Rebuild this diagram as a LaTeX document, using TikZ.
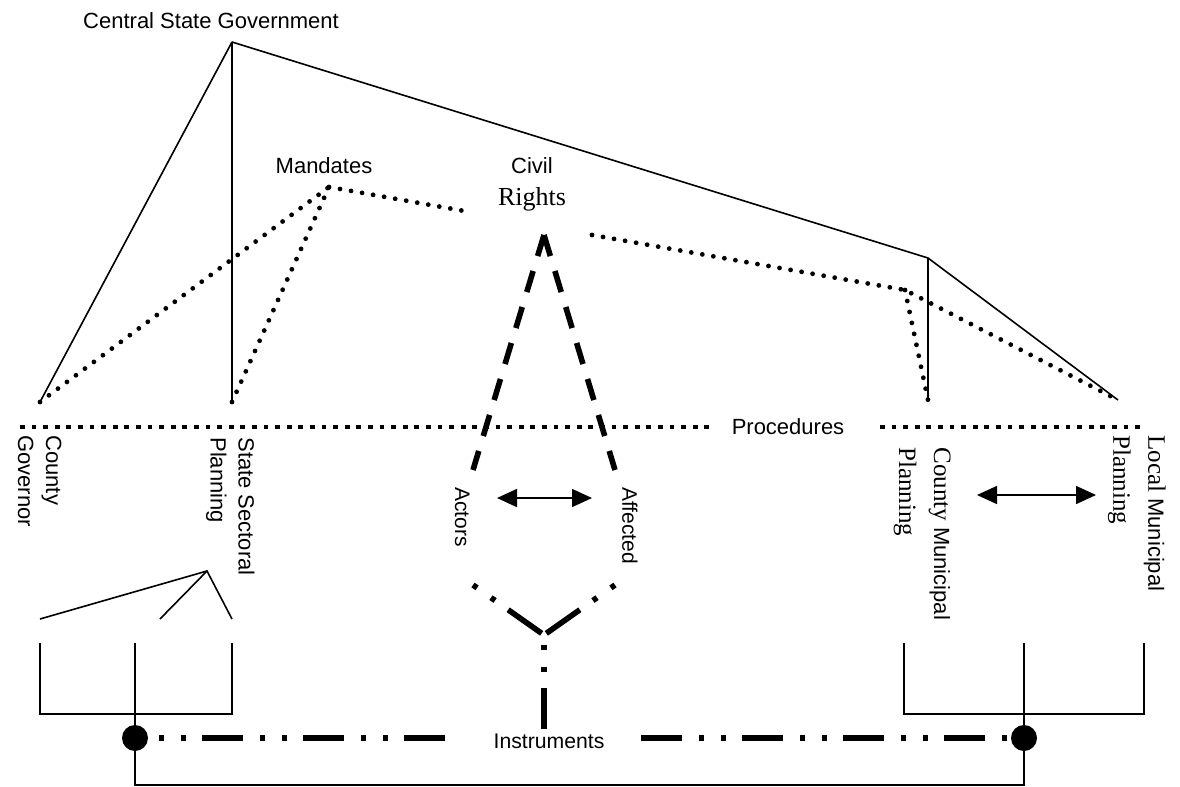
\documentclass[tikz,border=0pt]{standalone}
\usepackage{fontspec}
\setmainfont{Liberation Serif}
\setsansfont{Liberation Sans}
\usetikzlibrary{arrows.meta}

\newcommand{\rmbig}{\fontsize{12.5}{17.5}\selectfont\rmfamily}

\tikzset{
    lbl/.style={font=\sffamily\fontsize{11}{14}\selectfont, inner sep=0pt},
    vlbl/.style={lbl, rotate=-90, anchor=north west, align=left},
    solidline/.style={line width=0.8pt},
    rounddots/.style={line width=2.4pt, line cap=round, dash pattern=on 0pt off 5.6pt},
    squaredots/.style={line width=2.4pt, dash pattern=on 2.4pt off 3.4pt},
    civildash/.style={line width=2.8pt, dash pattern=on 11pt off 7.8pt},
    instrdash/.style={line width=2.8pt, dash pattern=on 2.5pt off 8.5pt on 2.5pt off 8pt on 20.5pt off 8.5pt},
    bigdot/.style={circle, fill, inner sep=0pt, minimum size=13pt},
    dblarrow/.style={line width=0.8pt, {Triangle[length=10pt,width=9pt]}-{Triangle[length=10pt,width=9pt]}},
}

\begin{document}
\begin{tikzpicture}[x=0.5pt, y=-0.5pt]

    \useasboundingbox (0,0) rectangle (1180,787);

    % points
    \coordinate (top) at (232,42);
    \coordinate (bend) at (928,258);
    \coordinate (cgpt) at (40,402);
    \coordinate (sspt) at (232,402);
    \coordinate (cmpt) at (928,400);
    \coordinate (lmpt) at (1118,400);
    \coordinate (mand) at (329,187);
    \coordinate (mandR) at (470,212);
    \coordinate (crR) at (592,235);
    \coordinate (fork) at (905,290);
    \coordinate (crtop) at (544,235);
    \coordinate (actpt) at (473,470);
    \coordinate (affpt) at (615,470);

    % Labels
    \node[lbl] (csg) at (211,21) {Central State Government};
    \node[lbl] (mandates) at (324,166) {Mandates};
    \node[lbl, anchor=base] (civil) at (532,173) {Civil};
    \node[inner sep=0pt, anchor=base, font=\fontsize{13}{15}\selectfont\rmfamily] (rights) at (532,205) {Rights};
    \node[lbl] (proc) at (788,427) {Procedures};
    \node[lbl, font=\sffamily\fontsize{10.6}{12}\selectfont] (instr) at (549,741) {Instruments};

    %% rotated
    \node[vlbl] (cgov) at (62,435) {County\\Governor};
    \node[vlbl] (ssp) at (255,437) {State Sectoral\\Planning};
    \node[vlbl, font=\sffamily\fontsize{10.5}{13}\selectfont] (actors) at (470,487) {Actors};
    \node[vlbl, font=\sffamily\fontsize{10.5}{13}\selectfont] (affected) at (638,487) {Affected};
    \node[vlbl, font=\sffamily\fontsize{11}{17.5}\selectfont] (cmp) at (951,447) {{\rmbig County} Municipal\\{\rmbig Planning}};
    \node[vlbl, font=\sffamily\fontsize{11}{17.5}\selectfont] (lmp) at (1166,435) {{\rmbig Local} Municipal\\{\rmbig Planning}};

    % government
    \draw[solidline] (top) -- (cgpt);
    \draw[solidline] (top) -- (sspt);
    \draw[solidline] (top) -- (bend) -- (lmpt);
    \draw[solidline] (bend) -- (cmpt);

    % mandates & rights
    \draw[rounddots] (cgpt) -- (mand);
    \draw[rounddots] (sspt) -- (mand);
    \draw[rounddots] (mand) -- (mandR);
    \draw[rounddots] (crR) -- (fork) -- (lmpt);
    \draw[rounddots] (fork) -- (cmpt);

    % civil rights
    \draw[civildash] (crtop) -- (actpt);
    \draw[civildash] (crtop) -- (affpt);

    % procedures
    \coordinate (procL) at (20,427);
    \coordinate (procM1) at (714,427);
    \coordinate (procM2) at (880,427);
    \coordinate (procR) at (1143,427);
    \draw[squaredots] (procL) -- (procM1);
    \draw[squaredots] (procM2) -- (procR);

    % arrows
    \coordinate (arL1) at (497,498);
    \coordinate (arL2) at (592,498);
    \coordinate (arR1) at (977,495);
    \coordinate (arR2) at (1096,495);
    \draw[dblarrow] (arL1) -- (arL2);
    \draw[dblarrow] (arR1) -- (arR2);

    % fan
    \coordinate (fan) at (207,571);
    \coordinate (fanA) at (40,619);
    \coordinate (fanB) at (160,619);
    \coordinate (fanC) at (232,619);
    \draw[solidline] (fanA) -- (fan) -- (fanC);
    \draw[solidline] (fanB) -- (fan);

    % V
    \coordinate (vl) at (473,585);
    \coordinate (vr) at (615,585);
    \coordinate (vb) at (544,635);
    \draw[instrdash] (vl) -- (vb);
    \draw[instrdash] (vr) -- (vb);
    \draw[instrdash, dash phase=45.5pt] (vb) -- (instr.north -| vb);

    % brackets
    \node[bigdot] (dotL) at (135,738) {};
    \node[bigdot] (dotR) at (1024,738) {};
    \coordinate (lbA) at (40,643);
    \coordinate (lbB) at (135,643);
    \coordinate (lbC) at (232,643);
    \coordinate (lbbot) at (232,714);
    \coordinate (rbA) at (904,643);
    \coordinate (rbB) at (1024,643);
    \coordinate (rbC) at (1144,643);
    \coordinate (rbbot) at (1144,714);
    \coordinate (base) at (580,785);
    \draw[solidline] (lbA) |- (lbbot) -- (lbC);
    \draw[solidline] (rbA) |- (rbbot) -- (rbC);
    \draw[solidline] (lbB) -- (dotL);
    \draw[solidline] (rbB) -- (dotR);
    \draw[solidline] (dotL) |- (base) -| (dotR);

    % instruments
    \coordinate (instrL) at (448,738);
    \coordinate (instrR) at (641,738);
    \draw[instrdash, dash phase=45pt] (dotL.east) -- (instrL);
    \draw[instrdash, dash phase=21.5pt] (instrR) -- (dotR.west);

\end{tikzpicture}
\end{document}
